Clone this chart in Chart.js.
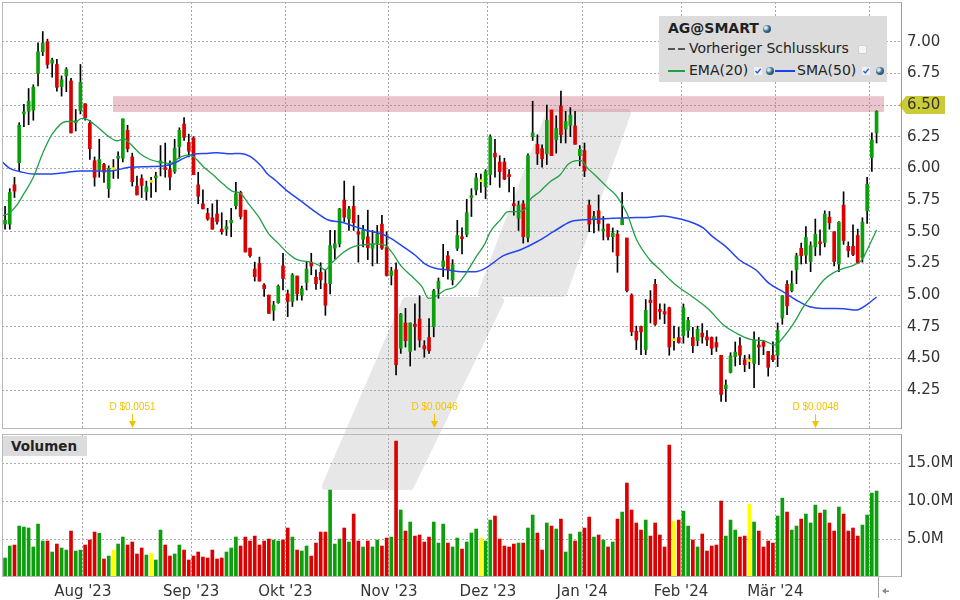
<!DOCTYPE html>
<html>
<head>
<meta charset="utf-8">
<script src="https://cdn.jsdelivr.net/npm/chart.js@4/dist/chart.umd.min.js"></script>
<style>
  html, body { margin: 0; padding: 0; background: #fff; }
  #wrap { position: relative; width: 960px; height: 600px; overflow: hidden; font-family: 'DejaVu Sans', sans-serif; }
  #mark { position: absolute; left: 0; top: 0; }
  canvas { position: absolute; left: 0; }
  #priceChart { top: 0; }
  #volChart { top: 432px; }
  .legend { position: absolute; left: 659px; top: 16px; width: 228px; height: 66px; background: #dcdcdc; color: #222; font-size: 14px; }
  .legend .t { position: absolute; line-height: 17px; white-space: nowrap; }
  .globe { position: absolute; width: 8px; height: 8px; border-radius: 50%;
    background: radial-gradient(circle at 35% 35%, #d8e6f0 0 15%, #3c6f93 45%, #12324a 100%); }
  .dash { position: absolute; width: 17px; height: 2px;
    background: linear-gradient(to right, #555 0 7px, transparent 7px 10px, #555 10px 17px); }
  .ln { position: absolute; width: 17px; height: 2px; }
  .box { position: absolute; width: 7px; height: 7px; background: #f6f6f6; border: 1px solid #d0d0d0; }
  .chk { position: absolute; width: 8px; height: 8px; }
  .vol { position: absolute; left: 3px; top: 436px; width: 84px; height: 20px; background: #dcdcdc;
    font-weight: bold; font-size: 13.5px; line-height: 20px; color: #222; text-indent: 8px; }
</style>
</head>
<body>
<div id="wrap">
  <svg id="mark" width="960" height="600">
    <g fill="#e7e7e7" stroke="#e7e7e7" stroke-width="8" stroke-linejoin="round">
      <polygon points="550,113 627,113 563,293 482,293"/>
      <polygon points="406,301 500,301 410,486 326,486"/>
    </g>
  </svg>
  <canvas id="priceChart" width="960" height="432"></canvas>
  <canvas id="volChart" width="960" height="168"></canvas>
  <div class="legend">
    <div class="t" style="left:9px;top:4px;font-weight:bold">AG@SMART</div>
    <span class="globe" style="left:104px;top:9px"></span>
    <span class="dash" style="left:9px;top:32px"></span>
    <div class="t" style="left:30px;top:24px">Vorheriger Schlusskurs</div>
    <span class="box" style="left:199px;top:29px"></span>
    <span class="ln" style="left:9px;top:54px;background:#22a046"></span>
    <div class="t" style="left:30px;top:46px">EMA(20)</div>
    <svg class="chk" style="left:95px;top:51px" viewBox="0 0 8 8"><rect width="8" height="8" fill="#eef1f6"/><path d="M1.5 4 L3.3 6 L6.7 1.8" stroke="#2a62c9" stroke-width="1.4" fill="none"/></svg>
    <span class="globe" style="left:107px;top:51px"></span>
    <span class="ln" style="left:116px;top:54px;width:20px;background:#1d3ff2"></span>
    <div class="t" style="left:138px;top:46px">SMA(50)</div>
    <svg class="chk" style="left:203px;top:51px" viewBox="0 0 8 8"><rect width="8" height="8" fill="#eef1f6"/><path d="M1.5 4 L3.3 6 L6.7 1.8" stroke="#2a62c9" stroke-width="1.4" fill="none"/></svg>
    <span class="globe" style="left:217px;top:51px"></span>
  </div>
  <div class="vol">Volumen</div>
</div>
<script>
// daily candles, index 0 = partially visible first bar (early July 2023)
const openP = [
  5.64, 5.56, 5.56, 5.87, 6.045, 6.43, 6.45, 6.46, 6.75, 6.92,
  7.00, 6.83, 6.82, 6.645, 6.73, 6.69, 6.36, 6.455, 6.51, 6.355,
  6.06, 5.99, 6.03, 5.84, 5.99, 6.08, 6.08, 6.30, 6.09, 5.86,
  5.92, 5.815, 5.89, 5.925, 6.04, 6.005, 5.99, 5.975, 6.17, 6.35,
  6.205, 6.24, 5.87, 5.72, 5.645, 5.61, 5.64, 5.52, 5.52, 5.57,
  5.705, 5.81, 5.67, 5.37, 5.205, 5.25, 5.08, 5.00, 4.88, 4.94,
  5.23, 5.01, 4.95, 5.15, 5.00, 5.10, 5.26, 5.14, 5.18, 5.09,
  5.09, 5.37, 5.405, 5.75, 5.60, 5.70, 5.50, 5.44, 5.46, 5.37,
  5.41, 5.56, 5.375, 5.155, 5.20, 4.58, 4.78, 4.555, 4.77, 4.81,
  4.60, 4.665, 4.75, 5.05, 5.225, 5.31, 5.12, 5.37, 5.46, 5.48,
  5.77, 5.83, 5.895, 5.855, 5.95, 6.12, 6.05, 6.05, 5.95, 5.72,
  5.605, 5.72, 5.455, 6.25, 6.19, 6.155, 6.115, 6.46, 6.225, 6.49,
  6.31, 6.34, 6.335, 6.10, 6.14, 5.71, 5.60, 5.665, 5.505, 5.56,
  5.46, 5.48, 5.555, 5.45, 5.00, 4.715, 4.75, 4.57, 4.96, 5.085,
  4.885, 4.87, 4.90, 4.64, 4.665, 4.68, 4.72, 4.665, 4.64, 4.70,
  4.67, 4.665, 4.625, 4.525, 4.26, 4.39, 4.515, 4.60, 4.49, 4.475,
  4.46, 4.605, 4.63, 4.555, 4.525, 4.525, 4.82, 5.085, 5.035, 5.20,
  5.37, 5.315, 5.265, 5.38, 5.42, 5.415, 5.615, 5.50, 5.245, 5.71,
  5.385, 5.385, 5.47, 5.295, 5.665, 6.085, 6.28,
];
const highP = [
  5.66, 5.70, 5.84, 5.93, 6.36, 6.505, 6.63, 6.66, 6.99, 7.08,
  7.02, 6.87, 6.86, 6.73, 6.795, 6.71, 6.465, 6.82, 6.51, 6.38,
  6.09, 6.23, 6.04, 6.02, 6.07, 6.13, 6.39, 6.34, 6.12, 5.94,
  5.95, 5.90, 5.93, 5.97, 6.18, 6.20, 6.06, 6.23, 6.32, 6.40,
  6.27, 6.25, 5.97, 5.83, 5.685, 5.72, 5.75, 5.65, 5.59, 5.685,
  5.89, 5.82, 5.67, 5.37, 5.26, 5.30, 5.09, 5.00, 4.95, 5.08,
  5.33, 5.04, 5.17, 5.15, 5.07, 5.265, 5.33, 5.20, 5.255, 5.20,
  5.51, 5.51, 5.685, 5.90, 5.70, 5.86, 5.63, 5.55, 5.67, 5.51,
  5.55, 5.63, 5.50, 5.22, 5.255, 4.855, 4.895, 4.78, 4.93, 4.995,
  4.64, 4.815, 5.045, 5.135, 5.40, 5.345, 5.28, 5.59, 5.53, 5.755,
  5.84, 5.96, 5.955, 5.99, 6.265, 6.23, 6.10, 6.08, 5.99, 5.85,
  5.74, 5.745, 6.115, 6.53, 6.265, 6.185, 6.50, 6.46, 6.415, 6.61,
  6.45, 6.48, 6.45, 6.18, 6.20, 5.75, 5.66, 5.79, 5.62, 5.56,
  5.53, 5.51, 5.81, 5.45, 5.01, 4.755, 4.755, 4.965, 5.035, 5.125,
  4.93, 4.93, 4.905, 4.755, 4.745, 4.93, 4.825, 4.745, 4.755, 4.775,
  4.72, 4.67, 4.67, 4.525, 4.33, 4.545, 4.63, 4.665, 4.525, 4.53,
  4.71, 4.665, 4.64, 4.555, 4.63, 4.78, 4.995, 5.115, 5.19, 5.33,
  5.41, 5.54, 5.42, 5.60, 5.515, 5.665, 5.66, 5.50, 5.58, 5.815,
  5.42, 5.555, 5.52, 5.61, 5.93, 6.28, 6.455,
];
const lowP = [
  5.49, 5.52, 5.52, 5.77, 5.98, 6.33, 6.345, 6.38, 6.65, 6.89,
  6.79, 6.72, 6.61, 6.57, 6.605, 6.28, 6.295, 6.43, 6.38, 6.07,
  5.86, 5.93, 5.89, 5.77, 5.92, 5.92, 6.05, 6.13, 5.86, 5.79,
  5.77, 5.75, 5.77, 5.815, 5.94, 5.93, 5.83, 5.96, 6.08, 6.22,
  6.09, 5.95, 5.72, 5.68, 5.59, 5.52, 5.56, 5.48, 5.47, 5.46,
  5.68, 5.60, 5.34, 5.30, 5.11, 5.11, 4.99, 4.855, 4.80, 4.935,
  5.04, 4.83, 4.91, 4.96, 4.96, 5.04, 5.16, 5.045, 5.05, 4.84,
  5.01, 5.285, 5.38, 5.58, 5.51, 5.51, 5.26, 5.38, 5.28, 5.23,
  5.25, 5.36, 5.15, 5.08, 4.37, 4.54, 4.59, 4.44, 4.565, 4.59,
  4.51, 4.54, 4.67, 4.975, 5.145, 5.125, 5.08, 5.35, 5.325, 5.46,
  5.62, 5.79, 5.81, 5.76, 5.87, 5.93, 5.85, 5.91, 5.815, 5.63,
  5.51, 5.41, 5.42, 6.22, 6.03, 6.01, 6.03, 6.10, 6.12, 6.20,
  6.20, 6.25, 6.19, 6.02, 5.935, 5.50, 5.49, 5.51, 5.435, 5.435,
  5.34, 5.18, 5.555, 5.025, 4.68, 4.57, 4.53, 4.53, 4.78, 4.76,
  4.81, 4.775, 4.525, 4.565, 4.62, 4.62, 4.665, 4.545, 4.60, 4.62,
  4.60, 4.53, 4.555, 4.16, 4.16, 4.385, 4.44, 4.45, 4.395, 4.42,
  4.27, 4.45, 4.53, 4.36, 4.475, 4.435, 4.77, 4.845, 5.025, 5.09,
  5.245, 5.25, 5.185, 5.31, 5.315, 5.38, 5.52, 5.23, 5.185, 5.40,
  5.30, 5.31, 5.25, 5.26, 5.565, 5.975, 6.20,
];
const closeP = [
  5.50, 5.59, 5.81, 5.82, 6.34, 6.445, 6.53, 6.64, 6.92, 6.99,
  6.82, 6.855, 6.64, 6.70, 6.78, 6.28, 6.37, 6.68, 6.40, 6.155,
  5.93, 6.07, 5.97, 6.00, 5.99, 6.09, 6.39, 6.155, 5.895, 5.79,
  5.865, 5.855, 5.89, 5.94, 6.06, 5.99, 5.93, 6.16, 6.30, 6.245,
  6.135, 5.95, 5.78, 5.68, 5.60, 5.52, 5.58, 5.50, 5.54, 5.59,
  5.80, 5.62, 5.34, 5.31, 5.145, 5.11, 5.05, 4.855, 4.92, 5.07,
  5.13, 4.95, 5.16, 5.01, 5.05, 5.205, 5.23, 5.09, 5.12, 4.92,
  5.39, 5.405, 5.68, 5.615, 5.68, 5.57, 5.48, 5.51, 5.375, 5.40,
  5.48, 5.37, 5.155, 5.19, 4.45, 4.85, 4.64, 4.78, 4.75, 4.645,
  4.575, 4.56, 5.035, 5.11, 5.27, 5.20, 5.24, 5.47, 5.445, 5.65,
  5.78, 5.925, 5.895, 5.975, 6.25, 6.09, 5.975, 5.915, 5.935, 5.705,
  5.71, 5.46, 6.10, 6.28, 6.115, 6.075, 6.38, 6.10, 6.315, 6.265,
  6.37, 6.42, 6.19, 6.15, 5.98, 5.56, 5.62, 5.565, 5.52, 5.46,
  5.49, 5.31, 5.60, 5.035, 4.71, 4.645, 4.71, 4.88, 4.94, 4.77,
  4.87, 4.85, 4.59, 4.64, 4.625, 4.90, 4.80, 4.60, 4.73, 4.67,
  4.645, 4.58, 4.59, 4.215, 4.29, 4.52, 4.55, 4.525, 4.45, 4.475,
  4.645, 4.59, 4.595, 4.43, 4.49, 4.72, 4.995, 4.915, 5.09, 5.31,
  5.31, 5.455, 5.39, 5.48, 5.405, 5.64, 5.57, 5.265, 5.575, 5.43,
  5.35, 5.32, 5.255, 5.575, 5.875, 6.225, 6.45,
];
// volume in millions
const volume = [
  3.3, 2.5, 4.08, 4.21, 6.71, 6.58, 6.45, 3.95, 6.97, 4.74,
  4.74, 3.29, 4.34, 3.82, 3.55, 6.05, 3.42, 3.55, 4.21, 4.87,
  5.92, 5.75, 2.37, 2.76, 3.55, 4.34, 5.26, 4.21, 4.61, 3.03,
  3.82, 2.89, 3.11, 2.24, 6.18, 4.21, 2.76, 3.03, 4.21, 3.55,
  2.24, 2.76, 3.29, 2.63, 2.5, 3.55, 2.37, 2.5, 3.29, 3.82,
  5.26, 4.08, 5.26, 4.74, 5.39, 4.21, 4.74, 5.0, 4.87, 4.74,
  4.87, 6.45, 5.26, 3.55, 3.42, 4.08, 2.76, 4.47, 5.92, 5.92,
  11.45, 4.34, 5.0, 6.45, 4.61, 8.29, 4.74, 3.95, 4.74, 3.95,
  4.87, 4.08, 5.13, 5.26, 17.9, 8.82, 6.05, 7.24, 5.39, 5.53,
  4.61, 5.26, 7.24, 4.47, 6.97, 4.47, 3.95, 5.13, 3.68, 4.61,
  5.79, 6.32, 5.13, 4.74, 7.5, 8.03, 5.0, 4.08, 3.95, 4.34,
  4.47, 4.47, 6.45, 8.16, 5.79, 3.55, 7.11, 6.71, 6.32, 7.63,
  3.29, 5.66, 4.74, 5.92, 6.45, 7.89, 5.26, 5.53, 4.87, 3.95,
  4.61, 7.63, 8.55, 12.37, 8.82, 7.11, 6.18, 7.5, 5.39, 7.11,
  5.53, 3.95, 17.37, 7.37, 7.5, 8.68, 6.71, 4.87, 3.95, 5.66,
  3.42, 4.08, 4.21, 10.0, 5.39, 7.5, 6.18, 5.26, 5.39, 9.6,
  7.24, 6.05, 3.95, 4.74, 4.47, 8.03, 10.39, 8.55, 6.18, 6.71,
  7.63, 8.29, 7.11, 9.47, 8.42, 8.82, 7.11, 6.05, 9.21, 8.29,
  6.05, 6.45, 5.39, 6.84, 8.16, 11.05, 11.32,
];

// moving averages (x = bar index)
const emaX = [0, 2, 3.5, 5, 7, 9, 11, 14, 16, 17.3, 18.4, 20.5, 22.6, 24.7, 26.3, 27.5, 29.6, 31.8, 33.9, 36,
  38.1, 39.6, 41, 43.1, 45.2, 47.3, 49.5, 50.9, 52.6, 54.8, 56.9, 59, 61.1, 63.2, 65.4, 67.5, 68.9, 70.3, 72.5, 74.6,
  76.7, 79.5, 81.6, 83, 85.2, 87.3, 89.5, 90.9, 92.3, 94.4, 96.5, 98.6, 100.8, 102.9, 104, 106.1, 107.8, 109.6, 111.4, 112.4,
  114.5, 116.7, 118.8, 120.6, 122.4, 123.4, 124.5, 126.6, 128.7, 130.9, 133, 135.1, 137.9, 140.1, 142.2, 144.3, 146.4, 148.6, 150.7, 153.5,
  156.3, 159.2, 162, 164.5, 166.3, 168.4, 170.5, 172.6, 174.8, 176.9, 179, 181.2, 182.9, 184, 185, 186];
const emaY = [5.62, 5.65, 5.71, 5.80, 5.93, 6.12, 6.27, 6.37, 6.37, 6.395, 6.387, 6.33, 6.263, 6.218, 6.232, 6.197, 6.118, 6.07, 6.05, 6.04,
  6.087, 6.105, 6.092, 6.013, 5.947, 5.876, 5.816, 5.805, 5.724, 5.619, 5.487, 5.408, 5.329, 5.277, 5.264, 5.237, 5.198, 5.25, 5.329, 5.377,
  5.395, 5.403, 5.395, 5.343, 5.224, 5.15, 5.066, 4.974, 4.987, 5.04, 5.066, 5.158, 5.29, 5.408, 5.5, 5.592, 5.658, 5.658, 5.677, 5.75,
  5.816, 5.895, 5.948, 6.034, 6.061, 6.061, 6.008, 5.934, 5.856, 5.777, 5.645, 5.434, 5.277, 5.198, 5.119, 5.053, 5.0, 4.94, 4.875, 4.764,
  4.698, 4.651, 4.64, 4.606, 4.671, 4.777, 4.908, 5.013, 5.119, 5.177, 5.211, 5.237, 5.277, 5.356, 5.434, 5.513];
const smaX = [0, 2, 4.2, 7, 10.5, 14.1, 16.9, 21.1, 24, 26.8, 31.1, 34.6, 36.8, 38.9, 41, 43.9, 46, 48.8, 50.9, 53,
  55.5, 56.6, 58.3, 61.1, 64, 66.8, 69.6, 72.5, 75.3, 78.1, 81, 83.1, 85.2, 88, 90.2, 92.3, 95.1, 97.9, 100.8, 102.9,
  106.8, 110.3, 113.9, 117.4, 121, 123.1, 126.6, 130.1, 133.7, 137.2, 140.7, 143.6, 146.4, 149.2, 151.2, 154, 156.9, 160.4, 163.2, 166.1,
  168.9, 171.8, 174.6, 177.4, 179.5, 181.6, 183.8, 186];
const smaY = [6.066, 6.0, 5.974, 5.955, 5.955, 5.968, 5.979, 5.979, 5.982, 6.005, 6.013, 6.018, 6.04, 6.079, 6.111, 6.118, 6.124, 6.115, 6.118, 6.095,
  6.013, 5.96, 5.908, 5.816, 5.737, 5.658, 5.592, 5.574, 5.54, 5.508, 5.482, 5.443, 5.39, 5.316, 5.245, 5.211, 5.198, 5.185, 5.185, 5.211,
  5.311, 5.356, 5.421, 5.5, 5.579, 5.592, 5.598, 5.606, 5.611, 5.613, 5.624, 5.606, 5.579, 5.53, 5.461, 5.382, 5.277, 5.198, 5.092, 5.027,
  4.961, 4.908, 4.895, 4.895, 4.89, 4.882, 4.921, 4.985];

const priceTicks = [4.25, 4.5, 4.75, 5.0, 5.25, 5.5, 5.75, 6.0, 6.25, 6.5, 6.75, 7.0];
const volTicks = [5, 10, 15];
const monthStart = [18, 41, 61, 83, 104, 124, 145, 165, 185];
const monthLabels = ["Aug '23", "Sep '23", "Okt '23", "Nov '23", "Dez '23", "Jan '24", "Feb '24", "Mär '24", ''];
const divIdx = [28, 92, 173];
const divText = ['D $0.0051', 'D $0.0046', 'D $0.0048'];
const bandX = [23.9, 187.6];
const bandY = [6.445, 6.57];
const lastPrice = 6.5;

const FONT = "'DejaVu Sans', sans-serif";
const GREEN = '#0c9f0c';
const RED = '#dc0000';
const YELLOW = '#f2ec00';
const GRID = '#a9a9a9';

const bodyColor = openP.map((o, i) => (closeP[i] > o ? GREEN : closeP[i] < o ? RED : YELLOW));
const volColor = bodyColor.map((c) => (c === YELLOW ? '#ffff00' : c));

function xAxis(showLabels) {
  return {
    type: 'linear',
    min: 0.35,
    max: 191.4,
    offset: false,
    afterBuildTicks: (s) => { s.ticks = monthStart.map((m) => ({ value: m - 0.5 })); },
    afterFit: (s) => {
      s.paddingLeft = 0;
      s.paddingRight = 0;
      if (showLabels) s.height = 23;
    },
    grid: { color: GRID, drawTicks: false, offset: false },
    border: { display: false, dash: [2, 2] },
    ticks: {
      display: showLabels,
      autoSkip: false,
      maxRotation: 0,
      padding: 6,
      color: '#333',
      font: { family: FONT, size: 15 },
      callback: (v) => monthLabels[monthStart.indexOf(v + 0.5)] ?? '',
    },
  };
}

function yAxis(min, max, ticks, fmt) {
  return {
    position: 'right',
    min,
    max,
    afterBuildTicks: (s) => { s.ticks = ticks.map((value) => ({ value })); },
    afterFit: (s) => {
      s.width = 58;
      s.paddingTop = 0;
      s.paddingBottom = 0;
    },
    grid: { color: GRID, drawTicks: false },
    border: { display: false, dash: [2, 2] },
    ticks: { padding: 5, color: '#333', font: { family: FONT, size: 15 }, callback: fmt },
  };
}

const framePlugin = {
  id: 'frame',
  afterDraw(chart) {
    const { ctx, chartArea: a } = chart;
    ctx.save();
    ctx.strokeStyle = '#b8b8b8';
    ctx.lineWidth = 1;
    ctx.strokeRect(a.left + 0.5, a.top + 0.5, a.right - a.left - 1, a.bottom - a.top - 1);
    ctx.strokeStyle = '#9a9a9a';
    ctx.beginPath();
    ctx.moveTo(a.right - 0.5, a.top);
    ctx.lineTo(a.right - 0.5, a.bottom);
    ctx.stroke();
    ctx.restore();
  },
};

const pricePlugin = {
  id: 'priceExtras',
  beforeDraw(chart) {
    // flag behind the last-price tick label
    const { ctx, chartArea: a } = chart;
    const y = chart.scales.y.getPixelForValue(lastPrice);
    ctx.save();
    ctx.fillStyle = '#cbcb36';
    ctx.beginPath();
    ctx.moveTo(a.right - 3, y);
    ctx.lineTo(a.right + 4, y - 9);
    ctx.lineTo(a.right + 43, y - 9);
    ctx.lineTo(a.right + 43, y + 9);
    ctx.lineTo(a.right + 4, y + 9);
    ctx.closePath();
    ctx.fill();
    ctx.restore();
  },
  beforeDatasetsDraw(chart) {
    const { ctx } = chart;
    const { x, y } = chart.scales;
    const x1 = x.getPixelForValue(bandX[0]);
    const x2 = x.getPixelForValue(bandX[1]);
    const y1 = y.getPixelForValue(bandY[1]);
    const y2 = y.getPixelForValue(bandY[0]);
    ctx.save();
    ctx.fillStyle = 'rgba(205, 110, 130, 0.4)';
    ctx.fillRect(x1, y1, x2 - x1, y2 - y1);
    ctx.restore();
  },
  afterDatasetsDraw(chart) {
    const { ctx, chartArea: a } = chart;
    const xs = chart.scales.x;
    ctx.save();
    ctx.fillStyle = '#f2c200';
    ctx.strokeStyle = '#f2c200';
    ctx.lineWidth = 1;
    ctx.font = "10px 'Liberation Sans', sans-serif";
    ctx.textAlign = 'center';
    ctx.textBaseline = 'middle';
    divIdx.forEach((d, k) => {
      const px = Math.round(xs.getPixelForValue(d)) + 0.5;
      ctx.fillText(divText[k], px, a.bottom - 22);
      ctx.beginPath();
      ctx.moveTo(px, a.bottom - 15);
      ctx.lineTo(px, a.bottom - 6);
      ctx.stroke();
      ctx.beginPath();
      ctx.moveTo(px - 3.5, a.bottom - 8);
      ctx.lineTo(px + 3.5, a.bottom - 8);
      ctx.lineTo(px, a.bottom - 1);
      ctx.closePath();
      ctx.fill();
    });
    ctx.restore();
  },
};

const volPlugin = {
  id: 'volExtras',
  afterDraw(chart) {
    const { ctx, chartArea: a } = chart;
    const px = Math.round(chart.scales.x.getPixelForValue(openP.length - 0.6)) + 0.5;
    ctx.save();
    ctx.strokeStyle = '#a0a0a0';
    ctx.beginPath();
    ctx.moveTo(px, a.bottom);
    ctx.lineTo(px, chart.height - 2);
    ctx.stroke();
    ctx.fillStyle = '#8a8a8a';
    const cy = a.bottom + 14;
    ctx.beginPath();
    ctx.moveTo(px + 3.5, cy);
    ctx.lineTo(px + 7.5, cy - 3);
    ctx.lineTo(px + 7.5, cy + 3);
    ctx.closePath();
    ctx.fill();
    ctx.fillRect(px + 7.5, cy - 0.5, 3, 1.5);
    ctx.restore();
  },
};

const common = {
  responsive: false,
  animation: false,
  devicePixelRatio: 1,
  plugins: { legend: { display: false }, tooltip: { enabled: false } },
};

new Chart(document.getElementById('priceChart'), {
  type: 'bar',
  data: {
    datasets: [
      {
        type: 'line',
        label: 'EMA(20)',
        data: emaX.map((x, i) => ({ x, y: emaY[i] })),
        borderColor: '#22a046',
        borderWidth: 1.3,
        pointRadius: 0,
        cubicInterpolationMode: 'monotone',
        order: 0,
      },
      {
        type: 'line',
        label: 'SMA(50)',
        data: smaX.map((x, i) => ({ x, y: smaY[i] })),
        borderColor: '#2445f0',
        borderWidth: 1.5,
        pointRadius: 0,
        cubicInterpolationMode: 'monotone',
        order: 0,
      },
      {
        label: 'body',
        data: openP.map((o, i) => ({ x: i, y: [o, closeP[i]] })),
        backgroundColor: bodyColor,
        barThickness: 3,
        minBarLength: 2,
        grouped: false,
        order: 1,
      },
      {
        label: 'wick',
        data: lowP.map((l, i) => ({ x: i, y: [l, highP[i]] })),
        backgroundColor: '#000',
        barThickness: 1,
        grouped: false,
        order: 2,
      },
    ],
  },
  options: {
    ...common,
    layout: { padding: { left: 2, top: 2, right: 0, bottom: 3 } },
    scales: {
      x: xAxis(false),
      y: yAxis(3.943, 7.313, priceTicks, (v) => v.toFixed(2)),
    },
  },
  plugins: [pricePlugin, framePlugin],
});

new Chart(document.getElementById('volChart'), {
  type: 'bar',
  data: {
    datasets: [{
      label: 'Volumen',
      data: volume.map((v, i) => ({ x: i, y: v })),
      backgroundColor: volColor,
      barThickness: 3,
      grouped: false,
    }],
  },
  options: {
    ...common,
    layout: { padding: { left: 2, top: 2, right: 0, bottom: 0 } },
    scales: {
      x: xAxis(true),
      y: yAxis(0, 18.83, volTicks, (v) => v.toFixed(1) + 'M'),
    },
  },
  plugins: [volPlugin, framePlugin],
});
</script>
</body>
</html>
